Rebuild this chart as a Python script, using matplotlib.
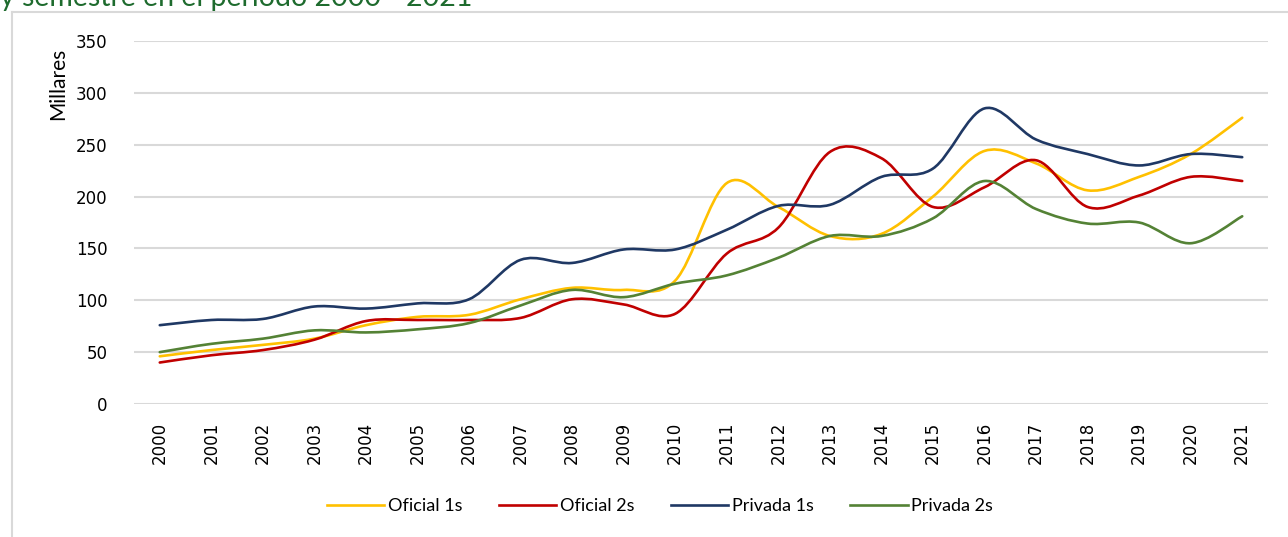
"""Oficial / Privada por semestre 2000-2021"""
import numpy as np
import matplotlib
matplotlib.use('Agg')
import matplotlib.pyplot as plt
from matplotlib.path import Path
from matplotlib.patches import PathPatch
from matplotlib.lines import Line2D

years = list(range(2000, 2022))
oficial_1s = [46, 52, 57, 63, 76, 84, 86, 101, 112, 110, 119, 213, 190, 162, 164, 200, 244, 232, 206, 219, 241, 276]
oficial_2s = [40, 47, 52, 62, 80, 81, 81, 83, 101, 96, 87, 145, 170, 243, 237, 190, 209, 235, 190, 201, 219, 215]
privada_1s = [76, 81, 82, 94, 92, 97, 101, 139, 136, 149, 149, 168, 191, 192, 219, 227, 285, 255, 241, 230, 241, 238]
privada_2s = [50, 58, 63, 71, 69, 72, 78, 95, 110, 103, 116, 124, 141, 162, 162, 179, 215, 188, 174, 175, 155, 181]

series = [
    ('Oficial 1s', oficial_1s, '#FFC000'),
    ('Oficial 2s', oficial_2s, '#C00000'),
    ('Privada 1s', privada_1s, '#1F3864'),
    ('Privada 2s', privada_2s, '#548235'),
]

plt.rcParams['font.family'] = ['Lato', 'DejaVu Sans']


def smooth_path(x, y):
    # cubic bezier through the points, like a spreadsheet "smoothed line"
    p = np.column_stack([x, y]).astype(float)
    n = len(p)
    verts = [p[0]]
    codes = [Path.MOVETO]
    for i in range(n - 1):
        p0 = p[i - 1] if i > 0 else p[i]
        p3 = p[i + 2] if i + 2 < n else p[i + 1]
        c1 = p[i] + (p[i + 1] - p0) / 6.0
        c2 = p[i + 1] - (p3 - p[i]) / 6.0
        verts += [c1, c2, p[i + 1]]
        codes += [Path.CURVE4] * 3
    return Path(verts, codes)


def main():
    fig = plt.figure(figsize=(12.88, 5.37), dpi=100)
    ax = fig.add_axes([134 / 1288, 1 - 404 / 537, (1268 - 134) / 1288, (404 - 41) / 537])

    xs = np.arange(len(years))
    handles = []
    for name, vals, col in series:
        patch = PathPatch(smooth_path(xs, vals), facecolor='none', edgecolor=col,
                          linewidth=1.9, capstyle='round', joinstyle='round')
        ax.add_patch(patch)
        handles.append(Line2D([], [], color=col, linewidth=1.9, label=name))

    ax.set_xlim(-0.5, len(years) - 0.5)
    ax.set_ylim(0, 350)
    ax.set_yticks(range(0, 351, 50))
    ax.set_xticks(xs)
    ax.set_xticklabels([str(y) for y in years], rotation=90)
    ax.tick_params(axis='both', length=0, colors='#000000')
    for lab in ax.get_xticklabels() + ax.get_yticklabels():
        lab.set_fontfamily('DejaVu Sans')
        lab.set_fontsize(12)
    ax.tick_params(axis='y', pad=19)
    ax.tick_params(axis='x', pad=13)
    ax.grid(axis='y', color='#D9D9D9', linewidth=1.5)
    ax.set_axisbelow(True)
    for s in ax.spines.values():
        s.set_visible(False)

    fig.text(58 / 1288, 1 - 84 / 537, 'Millares', rotation=90, ha='center', va='center', fontsize=15)

    fig.legend(handles=handles, loc='center', bbox_to_anchor=(660 / 1288, 1 - 506 / 537),
               ncol=4, frameon=False, fontsize=13, handlelength=3.2, handletextpad=0.2,
               columnspacing=2.0)

    # chart border, partly outside the picture
    fig.add_artist(Line2D([12 / 1288, 12 / 1288], [0, 1 - 12 / 537], color='#D9D9D9', linewidth=1.5))
    fig.add_artist(Line2D([12 / 1288, 1], [1 - 12 / 537, 1 - 12 / 537], color='#D9D9D9', linewidth=1.5))

    fig.text(0, 1 - 6 / 537, 'y semestre en el periodo 2000 - 2021', color='#1E6B2E',
             fontsize=20.5, ha='left', va='baseline')

    fig.savefig('out.png', dpi=100)


if __name__ == '__main__':
    main()
